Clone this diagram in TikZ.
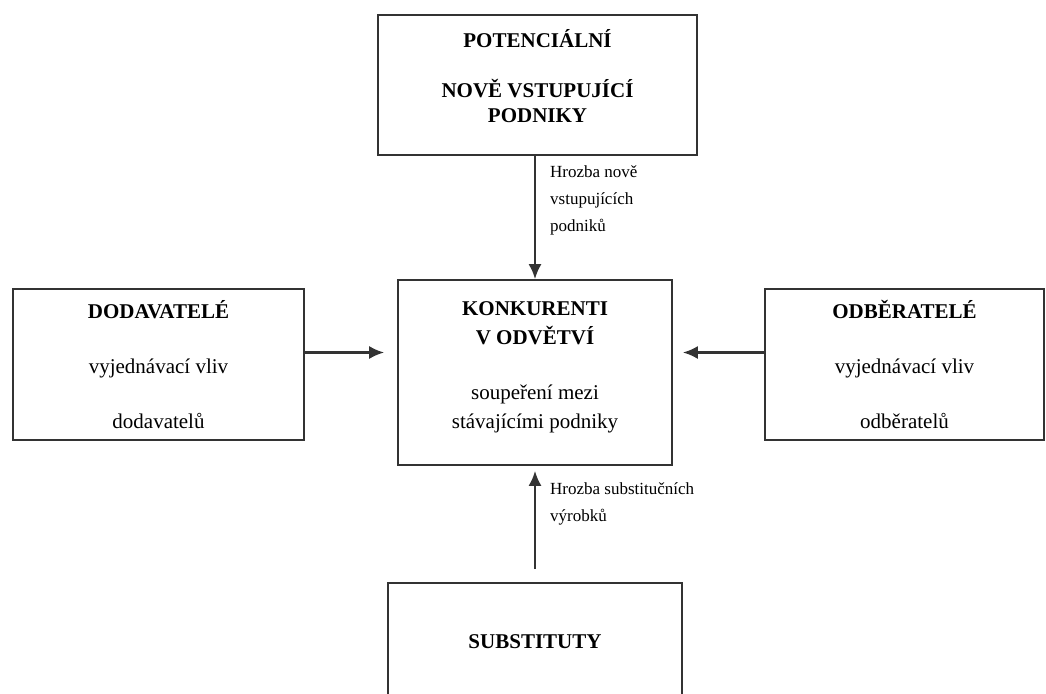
\documentclass[tikz,border=0pt]{standalone}
\usepackage{fontspec}
\setmainfont{Liberation Serif}
\usepackage{tikz}
\usetikzlibrary{arrows.meta, positioning, calc}

\begin{document}
\begin{tikzpicture}[
        x=1pt, y=-1pt,
        block/.style={rectangle, draw=black!80, line width=1.6pt, inner sep=0pt, align=center, font=\fontsize{21}{29}\selectfont},
        force/.style={line width=2.4pt, draw=black!80, -{Latex[length=15pt, width=13pt]}},
        threat/.style={anchor=north west, inner sep=0pt, align=left, font=\fontsize{17}{27}\selectfont}
    ]
        \useasboundingbox (0,0) rectangle (1046,693);
        \clip (0,0) rectangle (1046,693);

        % Forces
        \node[block, minimum width=319pt, minimum height=140pt, font=\fontsize{21}{25}\selectfont] (entrants) at (537.5, 85) {\textbf{POTENCIÁLNÍ}\\[25pt]\textbf{NOVĚ VSTUPUJÍCÍ}\\\textbf{PODNIKY}\\[-7pt]\mbox{}};
        \node[block, minimum width=274pt, minimum height=185pt] (competitors) at (535, 372.5) {\textbf{KONKURENTI}\\\textbf{V ODVĚTVÍ}\\[26pt]soupeření mezi\\stávajícími podniky\\[-14pt]\mbox{}};
        \node[block, minimum width=291pt, minimum height=151pt] (suppliers) at (158.5, 364.5) {\textbf{DODAVATELÉ}\\[26pt]vyjednávací vliv\\[26pt]dodavatelů};
        \node[block, minimum width=279pt, minimum height=151pt] (buyers) at (904.5, 364.5) {\textbf{ODBĚRATELÉ}\\[26pt]vyjednávací vliv\\[26pt]odběratelů};
        \node[block, minimum width=294pt, minimum height=117pt] (substitutes) at (535, 641.5) {\textbf{SUBSTITUTY}};

        % Arrows
        \draw[force] (entrants.south -| competitors.north) -- (competitors.north);
        \draw[force, shorten >=13pt] ([yshift=12pt]suppliers.east) -- ([yshift=12pt]suppliers.east -| competitors.west);
        \draw[force, shorten >=10pt] ([yshift=12pt]buyers.west) -- ([yshift=12pt]buyers.west -| competitors.east);
        \draw[force, shorten <=13pt, shorten >=5pt] (substitutes.north) -- (competitors.south);

        % Threats
        \node[threat] (threat_entrants) at (550, 165) {Hrozba nově\\vstupujících\\podniků};
        \node[threat] (threat_substitutes) at (550, 482) {Hrozba substitučních\\výrobků};
\end{tikzpicture}
\end{document}
